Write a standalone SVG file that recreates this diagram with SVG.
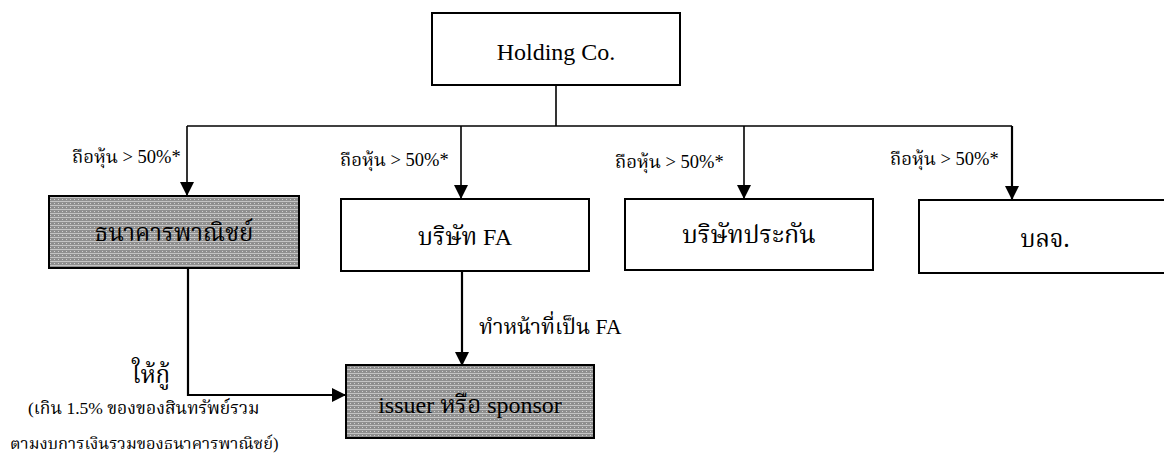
<svg xmlns="http://www.w3.org/2000/svg" width="1164" height="462" viewBox="0 0 1164 462">
  <style>
    .box { fill: #ffffff; stroke: #000000; stroke-width: 2; }
    .shaded { stroke: #000000; stroke-width: 2; fill: url(#dither); }
    .conn { fill: none; stroke: #000000; stroke-width: 1.6; }
    .thick { stroke-width: 2.2; }
    .t { font-family: "Liberation Serif", "Noto Serif Thai", "Noto Sans Thai", serif; fill: #000000; }
    .th { font-family: "Noto Serif Thai", "Noto Sans Thai", "Liberation Serif", serif; }
    .la { font-family: "Liberation Serif", "Times New Roman", serif; }
    .big { font-size: 24px; }
    .lbl { font-size: 18.5px; }
    .mid { font-size: 21.5px; }
  </style>
  <defs>
    <marker id="arrow" viewBox="0 0 14 14" refX="14" refY="7" markerWidth="14" markerHeight="14" markerUnits="userSpaceOnUse" orient="auto">
      <path d="M0,0 L14,7 L0,14 Z" fill="#000000"/>
    </marker>
    <pattern id="dither" width="4" height="4" patternUnits="userSpaceOnUse">
      <rect width="4" height="4" fill="#8f8f8f"/>
      <rect x="0" y="1" width="4" height="1" fill="#c4c4c4"/>
      <rect x="2" y="3" width="1" height="1" fill="#d0d0d0"/>
    </pattern>
  </defs>

  <g id="connectors">
    <path class="conn" d="M556,85 V126"/>
    <path class="conn" d="M187,126 H1012"/>
    <path class="conn" d="M187,126 V196" marker-end="url(#arrow)"/>
    <path class="conn" d="M461,126 V199" marker-end="url(#arrow)"/>
    <path class="conn" d="M744,126 V199" marker-end="url(#arrow)"/>
    <path class="conn thick" d="M1012,126 V200" marker-end="url(#arrow)"/>
    <path class="conn thick" d="M188,268 V395 H346" marker-end="url(#arrow)"/>
    <path class="conn thick" d="M462,272 V366" marker-end="url(#arrow)"/>
  </g>

  <g id="labels">
    <text class="t lbl" x="72" y="163"><tspan class="th">ถือหุ้น</tspan><tspan class="la"> &gt; 50%*</tspan></text>
    <text class="t lbl" x="340" y="166"><tspan class="th">ถือหุ้น</tspan><tspan class="la"> &gt; 50%*</tspan></text>
    <text class="t lbl" x="615" y="168"><tspan class="th">ถือหุ้น</tspan><tspan class="la"> &gt; 50%*</tspan></text>
    <text class="t lbl" x="890" y="165"><tspan class="th">ถือหุ้น</tspan><tspan class="la"> &gt; 50%*</tspan></text>
    <text class="t mid" x="479" y="334"><tspan class="th">ทำหน้าที่เป็น</tspan><tspan class="la"> FA</tspan></text>
    <text class="t th" x="132" y="383" font-size="24">ให้กู้</text>
    <text class="t" x="28" y="414" font-size="17.5"><tspan class="la">(</tspan><tspan class="th">เกิน</tspan><tspan class="la"> 1.5% </tspan><tspan class="th">ของของสินทรัพย์รวม</tspan></text>
    <text class="t" x="10" y="449" font-size="16.5"><tspan class="th">ตามงบการเงินรวมของธนาคารพาณิชย์</tspan><tspan class="la">)</tspan></text>
  </g>

  <g id="holding">
    <rect class="box" x="432" y="13" width="248" height="72"/>
    <text class="t big la" x="556" y="60" text-anchor="middle">Holding Co.</text>
  </g>

  <g id="bank">
    <rect class="shaded" x="49" y="196" width="250" height="72"/>
    <text class="t big th" x="174" y="241" text-anchor="middle" fill="#2a2a2a">ธนาคารพาณิชย์</text>
  </g>

  <g id="fa">
    <rect class="box" x="341" y="199" width="248" height="72"/>
    <text class="t big" x="465" y="245" text-anchor="middle"><tspan class="th">บริษัท</tspan><tspan class="la"> FA</tspan></text>
  </g>

  <g id="insurance">
    <rect class="box" x="625" y="199" width="248" height="71"/>
    <text class="t th" x="749" y="243" text-anchor="middle" font-size="25">บริษัทประกัน</text>
  </g>

  <g id="amc">
    <rect class="box" x="919" y="200" width="252" height="73"/>
    <text class="t big th" x="1045" y="247" text-anchor="middle">บลจ.</text>
  </g>

  <g id="issuer">
    <rect class="shaded" x="346" y="365" width="248" height="73"/>
    <text class="t big" x="470" y="413" text-anchor="middle" fill="#2a2a2a"><tspan class="la">issuer </tspan><tspan class="th">หรือ</tspan><tspan class="la"> sponsor</tspan></text>
  </g>
</svg>
